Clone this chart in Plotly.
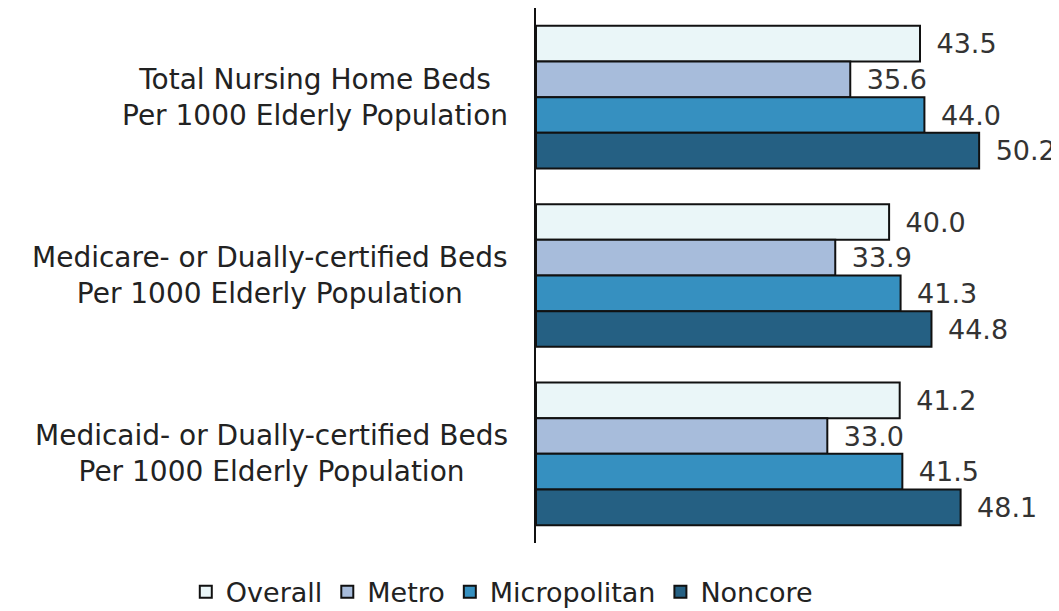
"""
Nursing home beds per 1000 elderly population, by rurality
"""
import plotly.graph_objects as go

categories = [
    "Total Nursing Home Beds<br>Per 1000 Elderly Population",
    "Medicare- or Dually-certified Beds<br>Per 1000 Elderly Population",
    "Medicaid- or Dually-certified Beds<br>Per 1000 Elderly Population",
]
series_names = ["Overall", "Metro", "Micropolitan", "Noncore"]
overall = [43.5, 40.0, 41.2]
metro = [35.6, 33.9, 33.0]
micropolitan = [44.0, 41.3, 41.5]
noncore = [50.2, 44.8, 48.1]

colors = ["#EAF6F8", "#A7BCDB", "#3690C0", "#256083"]
FONT = "DejaVu Sans"
SIZE = 28


def build():
    fig = go.Figure()
    for name, vals, color in zip(series_names, [overall, metro, micropolitan, noncore], colors):
        fig.add_bar(
            y=categories, x=vals, name=name, orientation="h",
            marker=dict(color=color, line=dict(color="#111111", width=2)),
            text=[f"{v:.1f}" for v in vals], textposition="outside",
            texttemplate="\u2002%{text}",
            textfont=dict(size=27, color="#333333", family=FONT),
            cliponaxis=False,
        )
    # category labels as annotations so both lines are centred
    for cat in categories:
        fig.add_annotation(
            x=0, xref="paper", xshift=-26, xanchor="right",
            y=cat, yref="y", text=cat, showarrow=False, align="center",
            font=dict(size=SIZE, color="#222222", family=FONT),
        )
    # page body has an 8px margin, so the figure is 8px smaller than the window
    fig.update_layout(
        width=1051, height=603,
        margin=dict(l=528, r=11, t=0, b=68, autoexpand=False),
        plot_bgcolor="white", paper_bgcolor="white",
        barmode="group", bargap=0.2, bargroupgap=0,
        showlegend=True,
        legend=dict(
            orientation="h", x=-0.684, xanchor="left",
            y=-0.092, yanchor="middle",
            font=dict(size=27, color="#222222", family=FONT),
            itemwidth=30, traceorder="normal",
        ),
        font=dict(family=FONT),
    )
    fig.update_xaxes(range=[0, 58], showgrid=False, showticklabels=False,
                     zeroline=False, showline=False)
    fig.update_yaxes(autorange="reversed", showticklabels=False, showgrid=False,
                     showline=True, linecolor="#111111", linewidth=2, ticks="")
    return fig


def main():
    fig = build()
    fig.write_html("out.html")


if __name__ == "__main__":
    main()
